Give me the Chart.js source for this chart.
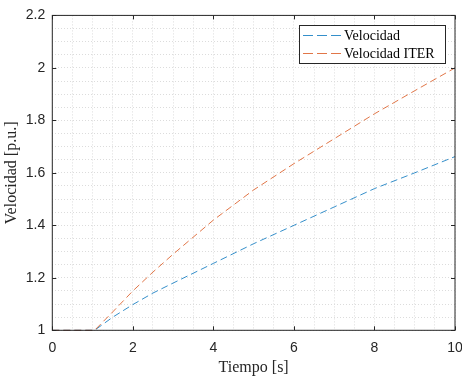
<!DOCTYPE html>
<html>
<head>
<meta charset="utf-8">
<script src="https://cdn.jsdelivr.net/npm/chart.js@4.4.0/dist/chart.umd.min.js"></script>
<style>
  html, body { margin: 0; padding: 0; background: #fff; }
  #wrap { width: 462px; height: 377px; position: relative; }
</style>
</head>
<body>
<div id="wrap"><canvas id="chart"></canvas></div>
<script>
// values
const tiempo = [0, 1.05, 1.5, 2, 2.5, 3, 4, 5, 6, 7, 8, 9, 10];
const velocidad = [1, 1, 1.05, 1.098, 1.142, 1.18, 1.255, 1.33, 1.40, 1.47, 1.54, 1.60, 1.662];
const velocidadIter = [1, 1, 1.07, 1.15, 1.222, 1.29, 1.42, 1.535, 1.635, 1.73, 1.825, 1.913, 2.0];

const xTickLabels = ['0', '2', '4', '6', '8', '10'];
const yTickLabels = ['1', '1.2', '1.4', '1.6', '1.8', '2', '2.2'];

const seriesNames = ['Velocidad', 'Velocidad ITER'];
const seriesColors = ['#0072BD', '#D95319'];

const axisColor = '#262626';
const serif = '"Liberation Serif", "Times New Roman", serif';
const sans = '"Liberation Sans", Arial, sans-serif';

function findLabel(list, v) {
  const hit = list.find(l => Math.abs(parseFloat(l) - v) < 1e-6);
  return hit === undefined ? '' : hit;
}

// box around the plot, inward ticks and the boxed legend (MATLAB look)
const boxPlugin = {
  id: 'boxPlugin',
  afterDraw(chart) {
    const { ctx, chartArea: a, scales } = chart;
    ctx.save();
    ctx.strokeStyle = axisColor;
    ctx.lineWidth = 1;
    ctx.strokeRect(a.left, a.top, a.right - a.left, a.bottom - a.top);

    ctx.beginPath();
    xTickLabels.forEach(l => {
      const px = Math.round(scales.x.getPixelForValue(parseFloat(l))) + 0.5;
      ctx.moveTo(px, a.bottom); ctx.lineTo(px, a.bottom - 4);
      ctx.moveTo(px, a.top); ctx.lineTo(px, a.top + 4);
    });
    yTickLabels.forEach(l => {
      const py = Math.round(scales.y.getPixelForValue(parseFloat(l))) + 0.5;
      ctx.moveTo(a.left, py); ctx.lineTo(a.left + 4, py);
      ctx.moveTo(a.right, py); ctx.lineTo(a.right - 4, py);
    });
    ctx.stroke();

    // legend
    const lx = 299.5, ly = 25.5, lw = 146, lh = 38;
    ctx.fillStyle = '#fff';
    ctx.fillRect(lx, ly, lw, lh);
    ctx.strokeStyle = axisColor;
    ctx.strokeRect(lx, ly, lw, lh);
    ctx.font = '14px ' + serif;
    ctx.textBaseline = 'alphabetic';
    ctx.textAlign = 'left';
    chart.data.datasets.forEach((ds, i) => {
      const yy = 35.5 + i * 18;
      ctx.beginPath();
      ctx.lineWidth = 0.8;
      ctx.setLineDash([10, 4]);
      ctx.strokeStyle = ds.borderColor;
      ctx.moveTo(303, yy); ctx.lineTo(341, yy);
      ctx.stroke();
      ctx.setLineDash([]);
      ctx.fillStyle = '#000';
      ctx.fillText(ds.label, 344, 40 + i * 18);
    });
    ctx.restore();
  }
};

const makeSeries = (ys) => tiempo.map((t, i) => ({ x: t, y: ys[i] }));

new Chart(document.getElementById('chart'), {
  type: 'line',
  data: {
    datasets: [
      { label: seriesNames[0], data: makeSeries(velocidad), borderColor: seriesColors[0], order: 1 },
      { label: seriesNames[1], data: makeSeries(velocidadIter), borderColor: seriesColors[1], order: 0 },
    ].map(ds => Object.assign(ds, {
      borderWidth: 0.8,
      borderDash: [7, 4],
      pointRadius: 0,
      tension: 0,
      fill: false,
      clip: 2,
    })),
  },
  options: {
    responsive: true,
    maintainAspectRatio: false,
    animation: false,
    layout: { padding: { top: 15, right: 7, left: 0, bottom: 0 } },
    plugins: {
      legend: { display: false },
      tooltip: { enabled: false },
    },
    scales: {
      x: {
        type: 'linear',
        min: 0,
        max: 10,
        ticks: {
          stepSize: 0.5,
          autoSkip: false,
          maxRotation: 0,
          padding: 9,
          color: axisColor,
          font: { family: sans, size: 14 },
          callback: v => findLabel(xTickLabels, v),
        },
        grid: { color: '#dcdcdc', drawTicks: false },
        border: { display: false, dash: [1, 2] },
        title: {
          display: true,
          text: 'Tiempo [s]',
          color: axisColor,
          font: { family: serif, size: 16 },
          padding: 0,
        },
        afterFit: s => { s.height = 46.7; s.paddingRight = 0; s.paddingLeft = 0; },
      },
      y: {
        min: 1,
        max: 2.2,
        ticks: {
          stepSize: 0.05,
          autoSkip: false,
          padding: 7,
          color: axisColor,
          font: { family: sans, size: 14 },
          callback: v => findLabel(yTickLabels, v),
        },
        grid: { color: '#dcdcdc', drawTicks: false },
        border: { display: false, dash: [1, 2] },
        title: {
          display: true,
          text: 'Velocidad [p.u.]',
          color: axisColor,
          font: { family: serif, size: 16 },
          padding: { top: 2, bottom: 0 },
        },
        afterFit: s => { s.width = 52.3; },
      },
    },
  },
  plugins: [boxPlugin],
});
</script>
</body>
</html>
